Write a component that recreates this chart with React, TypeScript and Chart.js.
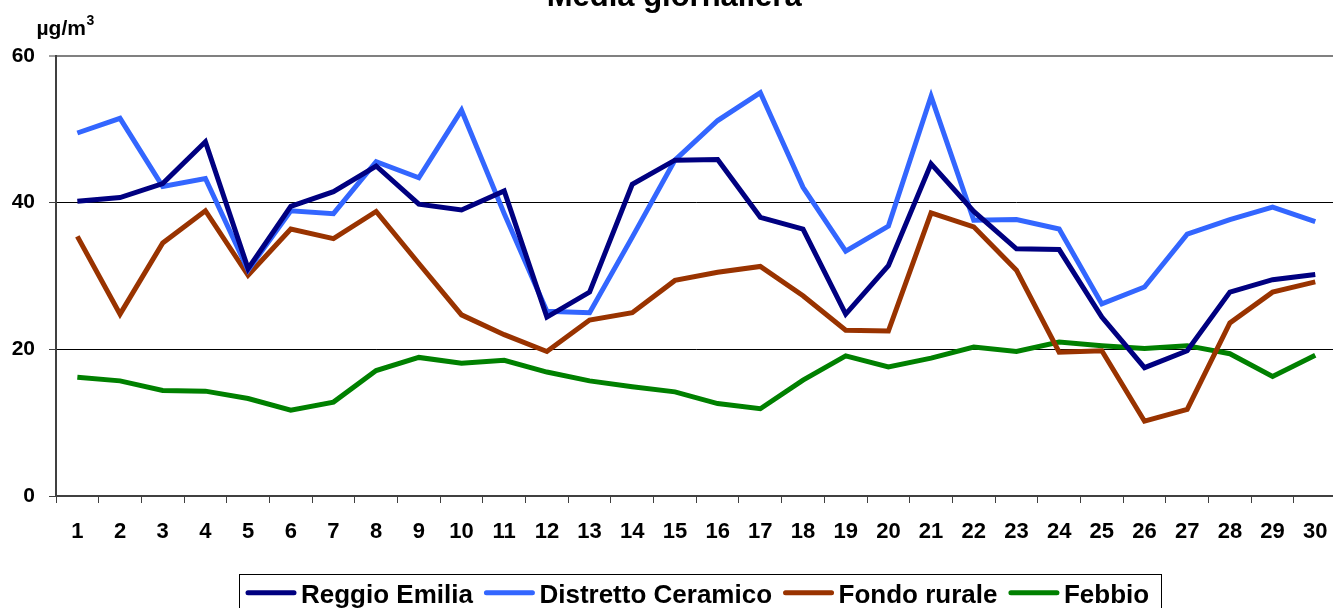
import { useEffect, useRef } from 'react';
import { Chart, registerables } from 'chart.js';

Chart.register(...registerables);

const days = ['1','2','3','4','5','6','7','8','9','10','11','12','13','14','15','16','17','18','19','20','21','22','23','24','25','26','27','28','29','30'];

const reggioEmilia = [40.2, 40.7, 42.6, 48.3, 31.0, 39.5, 41.5, 45.0, 39.8, 39.0, 41.6, 24.4, 27.8, 42.5, 45.8, 45.9, 38.0, 36.4, 24.8, 31.4, 45.3, 38.8, 33.7, 33.6, 24.4, 17.5, 19.8, 27.8, 29.5, 30.2];
const distrettoCeramico = [49.5, 51.5, 42.2, 43.3, 30.8, 38.9, 38.5, 45.6, 43.4, 52.6, 38.5, 25.2, 25.0, 35.3, 45.8, 51.2, 55.0, 42.1, 33.4, 36.8, 54.5, 37.6, 37.7, 36.4, 26.2, 28.5, 35.7, 37.7, 39.4, 37.4];
const fondoRurale = [35.4, 24.8, 34.5, 38.9, 30.1, 36.4, 35.1, 38.8, 31.7, 24.7, 22.0, 19.7, 24.0, 25.0, 29.4, 30.5, 31.3, 27.3, 22.6, 22.5, 38.6, 36.7, 30.8, 19.6, 19.8, 10.2, 11.8, 23.6, 27.8, 29.2];
const febbio = [16.2, 15.7, 14.4, 14.3, 13.3, 11.7, 12.8, 17.1, 18.9, 18.1, 18.5, 16.9, 15.7, 14.9, 14.2, 12.6, 11.9, 15.8, 19.1, 17.6, 18.8, 20.3, 19.7, 21.0, 20.5, 20.1, 20.5, 19.4, 16.3, 19.2];

const seriesNames = ['Reggio Emilia', 'Distretto Ceramico', 'Fondo rurale', 'Febbio'];
const seriesColors = ['#000080', '#3366FF', '#993300', '#008000'];

const titleText = 'Media giornaliera';
const unitText = 'µg/m';
const unitSup = '3';
const yMin = 0;
const yMax = 60;
const yStep = 20;

const FONT = '"Liberation Sans", Arial, Helvetica, sans-serif';

const unitLabelPlugin = {
  id: 'unitLabel',
  afterDraw(chart: any) {
    const { ctx, chartArea } = chart;
    ctx.save();
    ctx.fillStyle = '#000';
    ctx.textAlign = 'left';
    ctx.textBaseline = 'alphabetic';
    ctx.font = `bold 21px ${FONT}`;
    const x = chartArea.left - 19.5;
    const y = chartArea.top - 21.5;
    ctx.fillText(unitText, x, y);
    const w = ctx.measureText(unitText).width;
    ctx.font = `bold 14px ${FONT}`;
    ctx.fillText(unitSup, x + w + 0.5, y - 9.5);
    ctx.restore();
  },
};

const boxLegendPlugin = {
  id: 'boxLegend',
  afterDraw(chart: any) {
    const { ctx, chartArea } = chart;
    ctx.save();
    ctx.font = `bold 26px ${FONT}`;
    ctx.textBaseline = 'alphabetic';
    ctx.textAlign = 'left';
    const lineLen = 50;
    const gapText = 5;
    const gapItem = 11.5;
    const startX = chartArea.left + 190;
    const lineY = chartArea.bottom + 96.7;
    const textY = chartArea.bottom + 106.5;
    let x = startX;
    chart.data.datasets.forEach((ds: any) => {
      ctx.strokeStyle = ds.borderColor;
      ctx.lineWidth = 5;
      ctx.lineCap = 'round';
      ctx.beginPath();
      ctx.moveTo(x + 2, lineY);
      ctx.lineTo(x + lineLen - 2, lineY);
      ctx.stroke();
      x += lineLen + gapText;
      ctx.fillStyle = '#000';
      ctx.fillText(ds.label, x, textY);
      x += ctx.measureText(ds.label).width + gapItem;
    });
    const right = x;
    ctx.strokeStyle = '#000';
    ctx.lineWidth = 1;
    const top = chartArea.bottom + 77.7;
    ctx.strokeRect(Math.round(startX - 7) + 0.5, Math.round(top) + 0.5, Math.round(right - startX + 7), 60);
    ctx.restore();
  },
};

export default function App() {
  const ref = useRef<HTMLCanvasElement>(null);

  useEffect(() => {
    const canvas = ref.current;
    if (!canvas) return;
    const data = [reggioEmilia, distrettoCeramico, fondoRurale, febbio];
    const chart = new Chart(canvas, {
      type: 'line',
      data: {
        labels: days,
        datasets: data.map((d, i) => ({
          label: seriesNames[i],
          data: d,
          borderColor: seriesColors[i],
          backgroundColor: seriesColors[i],
          borderWidth: 5,
          pointRadius: 0,
          pointHoverRadius: 0,
          tension: 0,
          fill: false,
        })),
      },
      options: {
        animation: false,
        responsive: false,
        maintainAspectRatio: false,
        devicePixelRatio: 1,
        layout: { padding: { left: 11.7, right: 8.4, top: 0, bottom: 68.6 } },
        plugins: {
          legend: { display: false },
          tooltip: { enabled: false },
          title: {
            display: true,
            text: titleText,
            color: '#000',
            font: { family: FONT, size: 31, weight: 'bold' },
            padding: { top: 8.7, bottom: 40.1 },
          },
        },
        scales: {
          x: {
            offset: true,
            grid: {
              offset: true,
              drawOnChartArea: false,
              drawTicks: true,
              tickLength: 7,
              tickColor: '#404040',
              tickWidth: 1,
            },
            border: { color: '#404040', width: 2 },
            ticks: {
              color: '#000',
              padding: 16,
              maxRotation: 0,
              autoSkip: false,
              font: { family: FONT, size: 22, weight: 'bold' },
            },
          },
          y: {
            min: yMin,
            max: yMax,
            afterFit: (scale: any) => {
              scale.width = 44.3;
            },
            grid: {
              color: (c: any) => (c.tick && c.tick.value === yMax ? '#808080' : c.tick && c.tick.value === yMin ? 'rgba(0,0,0,0)' : '#000'),
              lineWidth: (c: any) => (c.tick && c.tick.value === yMax ? 2 : 1),
              tickLength: 7,
              tickColor: '#404040',
              tickWidth: 1,
            },
            border: { color: '#404040', width: 2 },
            ticks: {
              stepSize: yStep,
              color: '#000',
              padding: 14,
              font: { family: FONT, size: 21, weight: 'bold' },
            },
          },
        },
      },
      plugins: [unitLabelPlugin, boxLegendPlugin],
    });
    return () => chart.destroy();
  }, []);

  return (
    <div style={{ position: 'fixed', left: 0, top: 0, width: 1333, height: 608, overflow: 'hidden', background: '#fff' }}>
      <canvas
        ref={ref}
        width={1345}
        height={660}
        style={{ position: 'absolute', left: 0, top: -30, width: 1345, height: 660 }}
      />
    </div>
  );
}
